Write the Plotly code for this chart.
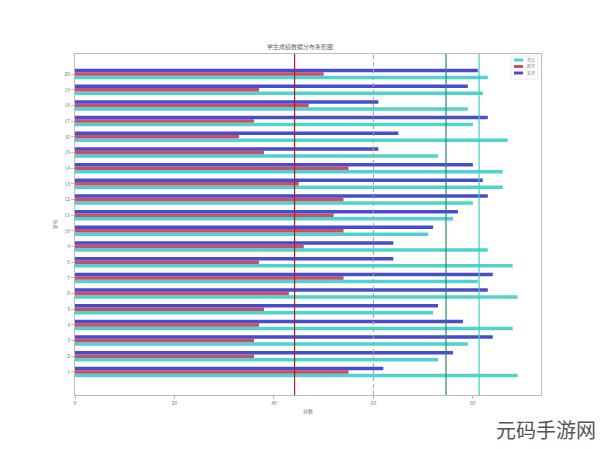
import numpy as np
import plotly.graph_objects as go

categories = list(range(1, 21))
tick_labels = [str(c) for c in categories]
series_names = ["语文", "数学", "英语"]
cyan_vals = [89, 73, 79, 88, 72, 89, 81, 88, 83, 71, 76, 80, 86, 86, 73, 87, 80, 79, 82, 83]
red_vals = [55, 36, 36, 37, 38, 43, 54, 37, 46, 54, 52, 54, 45, 55, 38, 33, 36, 47, 37, 50]
blue_vals = [62, 76, 84, 78, 73, 83, 84, 64, 64, 72, 77, 83, 82, 80, 61, 65, 83, 61, 79, 81]
pass_line = 60

colors = ["#4fd3cb", "#c9506a", "#4b4cc9"]
mean_colors = ["#3fcfc6", "#a8202c", "#2a8a6a"]

W, H = 600, 449
L, R, T, B = 75, 59, 54, 54
pw, ph = W - L - R, H - T - B

fig = go.Figure()
for name, vals, col in zip(series_names, [cyan_vals, red_vals, blue_vals], colors):
    fig.add_trace(go.Bar(x=vals, y=categories, orientation="h", name=name, showlegend=False,
                         marker=dict(color=col, line=dict(width=0))))

shapes = []
for vals, col in zip([cyan_vals, red_vals, blue_vals], mean_colors):
    m = float(np.mean(vals))
    shapes.append(dict(type="line", xref="x", yref="paper", x0=m, x1=m, y0=0, y1=1,
                       line=dict(color=col, width=1.2)))
shapes.append(dict(type="line", xref="x", yref="paper", x0=pass_line, x1=pass_line, y0=0, y1=1,
                   line=dict(color="#9aa0a6", width=1, dash="4px,3px")))


def px_x(p):
    return (p - L) / pw


def px_y(p):
    return 1 - (p - T) / ph


annotations = []
shapes.append(dict(type="rect", xref="paper", yref="paper", x0=px_x(511), x1=px_x(538),
                   y0=px_y(79), y1=px_y(56), line=dict(color="#e3e3e3", width=0.8), fillcolor="white"))
for i, (name, col) in enumerate(zip(series_names, colors)):
    yy = 60 + i * 6.5
    shapes.append(dict(type="line", xref="paper", yref="paper", x0=px_x(514), x1=px_x(523),
                       y0=px_y(yy), y1=px_y(yy), line=dict(color=col, width=3)))
    annotations.append(dict(text=name, xref="paper", yref="paper", x=px_x(525), y=px_y(yy),
                            xanchor="left", yanchor="middle", showarrow=False,
                            font=dict(size=4, color="#888")))

annotations.append(dict(text="元码手游网", xref="paper", yref="paper", x=px_x(598), y=px_y(446),
                        xanchor="right", yanchor="bottom", showarrow=False,
                        font=dict(family="Noto Sans CJK SC", size=20, color="#555")))

fig.update_layout(
    width=W, height=H,
    margin=dict(l=L, r=R, t=T, b=B),
    paper_bgcolor="white", plot_bgcolor="white",
    barmode="group", bargap=0.33, bargroupgap=0,
    font=dict(family="Noto Sans CJK SC", size=5, color="#777"),
    title=dict(text="学生成绩数据分布条形图", x=0.5, xanchor="center", y=1 - 47 / H, yanchor="middle",
               font=dict(size=6, color="#666")),
    showlegend=False,
    xaxis=dict(range=[0, 93.7], tickvals=[0, 20, 40, 60, 80], showgrid=False, zeroline=False,
               showline=True, linecolor="#bbb", linewidth=1, mirror=True, automargin=False,
               ticks="outside", ticklen=3, tickcolor="#bbb", tickfont=dict(size=5, color="#777"),
               title=dict(text="分数", font=dict(size=5, color="#777"), standoff=4)),
    yaxis=dict(range=[-0.47, 21.28], tickvals=categories, ticktext=tick_labels, showgrid=False,
               zeroline=False, showline=True, linecolor="#bbb", linewidth=1, mirror=True, automargin=False,
               ticks="outside", ticklen=3, tickcolor="#bbb", tickfont=dict(size=5, color="#777"),
               title=dict(text="学号", font=dict(size=5, color="#777"), standoff=6)),
    shapes=shapes,
    annotations=annotations,
)

fig.write_html("out.html", config={"displayModeBar": False},
               post_script="document.body.style.margin='0';document.body.style.overflow='hidden';")
